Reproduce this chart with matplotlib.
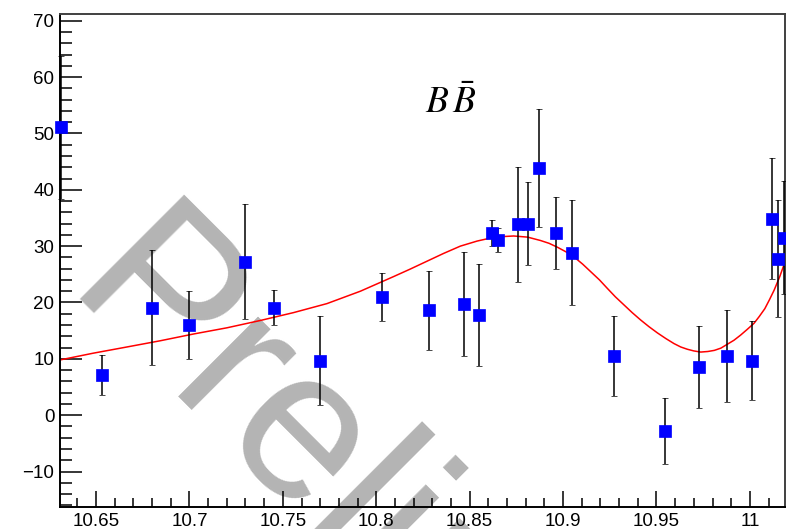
import matplotlib
matplotlib.use("Agg")
import matplotlib.pyplot as plt
from matplotlib.ticker import MultipleLocator, FormatStrFormatter

plt.rcParams['font.family'] = 'Liberation Sans'
plt.rcParams['mathtext.fontset'] = 'stix'

# measured points (energy, yield, error)
energy = [10.6315, 10.653, 10.680, 10.700, 10.730, 10.745, 10.770, 10.803, 10.828,
          10.847, 10.855, 10.862, 10.865, 10.876, 10.881, 10.887, 10.896, 10.905,
          10.927, 10.9546, 10.9728, 10.9876, 11.001, 11.0117, 11.0153, 11.018]
yields = [51.1, 7.1, 19.1, 16.0, 27.2, 19.1, 9.7, 21.0, 18.6,
          19.7, 17.8, 32.4, 31.1, 33.9, 34.0, 43.9, 32.3, 28.8,
          10.5, -2.8, 8.5, 10.5, 9.7, 34.9, 27.8, 31.5]
errors = [12.7, 3.6, 10.2, 6.1, 10.2, 3.1, 7.9, 4.2, 7.0,
          9.2, 9.0, 2.3, 2.2, 10.2, 7.4, 10.5, 6.4, 9.3,
          7.1, 5.9, 7.3, 8.2, 7.0, 10.7, 10.3, 10.0]

# fit curve
fit_x = [10.6307, 10.6485, 10.6665, 10.6843, 10.7021, 10.7200, 10.7379, 10.7557,
         10.7736, 10.7915, 10.8093, 10.8180, 10.8270, 10.8360, 10.8450, 10.8540,
         10.8620, 10.8680, 10.8735, 10.8810, 10.8879, 10.8925, 10.8970, 10.9015,
         10.9058, 10.9105, 10.9150, 10.9195, 10.9237, 10.9280, 10.9325, 10.9370,
         10.9415, 10.9460, 10.9505, 10.9550, 10.9594, 10.9630, 10.9665, 10.9700,
         10.9737, 10.9775, 10.9810, 10.9845, 10.9880, 10.9915, 10.9950, 10.9985,
         11.0022, 11.0050, 11.0080, 11.0105, 11.0130, 11.0160, 11.0188]
fit_y = [9.8, 11.0, 12.1, 13.2, 14.4, 15.5, 16.8, 18.2,
         19.8, 22.0, 24.6, 25.9, 27.3, 28.7, 30.0, 30.9,
         31.5, 31.7, 31.8, 31.6, 31.0, 30.5, 29.8, 29.0,
         28.1, 26.8, 25.4, 24.0, 22.5, 21.0, 19.6, 18.2,
         16.9, 15.7, 14.6, 13.6, 12.7, 12.1, 11.7, 11.4,
         11.2, 11.3, 11.5, 11.9, 12.6, 13.3, 14.2, 15.2,
         16.3, 17.5, 18.9, 20.5, 22.2, 24.6, 27.2]

fig = plt.figure(figsize=(7.86, 5.29), dpi=100)
ax = fig.add_axes([60/786, 1-507/529, 725/786, 493/529])

ax.plot(fit_x, fit_y, color='#ff0000', lw=1.1, zorder=2)
ax.errorbar(energy, yields, yerr=errors, fmt='s', color='#0000ff', ms=8.5,
            mec='#0000ff', mew=0.5, ecolor='black', elinewidth=1.1,
            capsize=2.5, capthick=1.4, clip_on=False, zorder=3)

ax.text(10.8397, 53.6, r'$B\,\bar{B}$', fontsize=27, ha='center', va='baseline')

# watermark
ax.text(62/786, 1-298/529, 'Preliminary', transform=fig.transFigure, fontsize=154,
        color='#b4b4b4', rotation=-45, rotation_mode='anchor', ha='left',
        va='baseline', zorder=1, clip_on=False)

ax.set_xlim(10.6307, 11.0188)
ax.set_ylim(-16.3, 71.2)

ax.xaxis.set_major_locator(MultipleLocator(0.05))
ax.xaxis.set_minor_locator(MultipleLocator(0.01))
ax.yaxis.set_major_locator(MultipleLocator(10))
ax.yaxis.set_minor_locator(MultipleLocator(2))
ax.xaxis.set_major_formatter(FormatStrFormatter('%g'))

ax.tick_params(which='both', direction='in', top=False, right=False,
               labelsize=13.5, width=1.1, pad=4)
ax.tick_params(axis='y', which='major', length=16)
ax.tick_params(axis='y', which='minor', length=8.5)
ax.tick_params(axis='x', which='major', length=11.5)
ax.tick_params(axis='x', which='minor', length=6.5)

for s in ['left', 'bottom']:
    ax.spines[s].set_linewidth(1.4)
    ax.spines[s].set_color('black')
for s in ['top', 'right']:
    ax.spines[s].set_linewidth(1.4)
    ax.spines[s].set_color('#404040')

fig.savefig('out.png', dpi=100)
